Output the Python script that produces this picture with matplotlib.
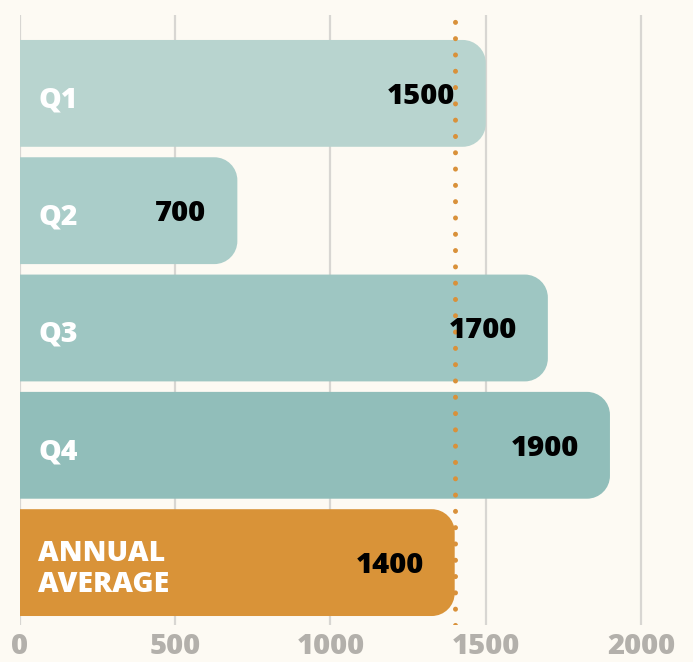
import matplotlib
matplotlib.use("Agg")
import matplotlib.pyplot as plt
from matplotlib.path import Path
from matplotlib.patches import PathPatch

## data
labels = ["Q1", "Q2", "Q3", "Q4", "ANNUAL\nAVERAGE"]
values = [1500, 700, 1700, 1900, 1400]
average = 1400
ticks = [0, 500, 1000, 1500, 2000]

colors = ["#B8D4CF", "#AACDC9", "#9EC6C2", "#91BEBA", "#D99338"]
bg = "#FDFAF3"

plt.rcParams['font.family'] = ['Open Sans', 'DejaVu Sans']

fig = plt.figure(figsize=(6.93, 6.62), dpi=100, facecolor=bg)
ax = fig.add_axes([20/693, 37/662, 673/693, 610/662], facecolor=bg)

xmax = 673 / (621/2000.)
ax.set_xlim(0, xmax)
ax.set_ylim(4 + 62.5/117.5, -78.5/117.5)

## rounded-right bar as a path, radius given in pixels
def bar_path(y, w, h, rpx=23):
    rx = rpx / (621/2000.)
    ry = rpx / 117.5
    k = 0.5523
    t, b = y - h/2, y + h/2
    verts = [(0, t), (w - rx, t),
             (w - rx + k*rx, t), (w, t + ry - k*ry), (w, t + ry),
             (w, b - ry),
             (w, b - ry + k*ry), (w - rx + k*rx, b), (w - rx, b),
             (0, b), (0, t)]
    codes = [Path.MOVETO, Path.LINETO,
             Path.CURVE4, Path.CURVE4, Path.CURVE4,
             Path.LINETO,
             Path.CURVE4, Path.CURVE4, Path.CURVE4,
             Path.LINETO, Path.CLOSEPOLY]
    return Path(verts, codes)

h = 107/117.5
for i, (lab, v, c) in enumerate(zip(labels, values, colors)):
    ax.add_patch(PathPatch(bar_path(i, v, h), facecolor=c, edgecolor='none', zorder=2))
    ax.text(58, i + 0.055, lab, color='white', fontsize=20.5, fontweight='heavy',
            va='center', ha='left', linespacing=1.12, zorder=4)
    ax.text(v - 100, i + 0.025, str(v), color='black', fontsize=21, fontweight='heavy',
            va='center', ha='right', zorder=4)

## average line
ax.axvline(average, color="#D9913A", linewidth=3.6, linestyle=(0, (0.01, 3.25)),
           dash_capstyle='round', zorder=3)

ax.set_xticks(ticks)
ax.set_xticklabels([str(t) for t in ticks])
ax.set_yticks([])
ax.grid(axis='x', color="#D8D6D2", linewidth=1.6, zorder=0)
ax.set_axisbelow(True)
ax.tick_params(axis='x', length=0, pad=5, labelsize=21, labelcolor="#B3B0AB")
for lbl in ax.get_xticklabels():
    lbl.set_fontweight('heavy')
for s in ax.spines.values():
    s.set_visible(False)

fig.savefig("out.png", dpi=100, facecolor=bg)
